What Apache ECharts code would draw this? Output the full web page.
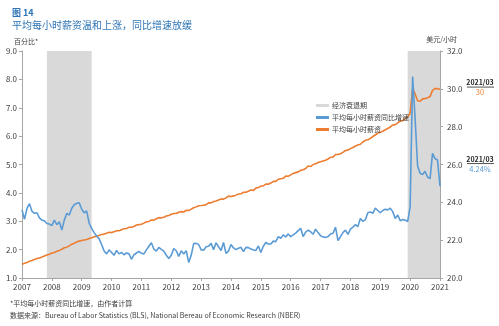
<!DOCTYPE html>
<html>
<head>
<meta charset="utf-8">
<script src="https://cdn.jsdelivr.net/npm/echarts@6/dist/echarts.min.js"></script>
<style>
html,body{margin:0;padding:0;background:#fff;}
#c{width:499px;height:326px;}
</style>
</head>
<body>
<div id="c"></div>
<script>
// Monthly dates from 2007-03 to 2021-03
var months = [];
(function(){
  for (var y = 2007; y <= 2021; y++) {
    for (var m = 1; m <= 12; m++) {
      if (y === 2007 && m < 3) continue;
      if (y === 2021 && m > 3) break;
      months.push(y + '-' + (m < 10 ? '0' + m : m));
    }
  }
})();

// Average hourly earnings YoY growth (%)
var yoyGrowth = [
  3.40,3.07,3.45,3.62,3.35,3.28,3.30,3.12,3.04,3.02,
  2.92,2.90,2.85,3.04,2.88,2.98,2.69,3.04,3.28,3.22,3.46,3.58,
  3.63,3.65,3.42,3.30,3.36,2.93,2.75,2.60,2.48,2.38,2.18,1.95,
  1.85,1.99,1.90,1.80,1.97,1.85,1.90,1.82,1.88,1.85,1.66,1.82,
  1.88,1.94,1.87,1.85,1.99,2.12,2.24,2.02,1.95,2.08,2.01,1.95,
  1.80,1.69,1.80,2.04,1.96,1.76,1.96,1.85,1.96,1.55,1.80,2.21,
  2.22,2.18,1.99,1.98,2.10,2.12,2.22,2.00,2.24,2.10,1.97,2.25,
  1.87,1.95,2.18,2.06,2.00,2.05,2.08,1.93,2.08,2.07,2.02,1.99,
  1.97,2.13,1.90,2.12,2.25,2.20,2.20,2.30,2.28,2.46,2.40,2.52,
  2.45,2.55,2.46,2.52,2.58,2.67,2.75,2.46,2.62,2.69,2.63,2.54,
  2.72,2.60,2.49,2.45,2.43,2.46,2.55,2.58,2.79,2.32,2.46,2.60,
  2.69,2.54,2.72,2.79,2.88,2.81,3.10,3.00,3.05,3.30,3.33,3.28,
  3.46,3.38,3.30,3.38,3.42,3.40,3.46,3.34,3.10,3.22,3.02,3.06,
  3.04,2.99,3.51,8.10,6.60,4.95,4.69,4.65,4.76,4.56,4.50,5.39,
  5.21,5.16,4.24
];

// Average hourly earnings (USD/hour)
var hourlyWage = [
  20.72,20.78,20.82,20.89,20.93,20.98,21.03,21.05,21.11,21.16,
  21.22,21.26,21.32,21.35,21.41,21.46,21.52,21.60,21.63,21.70,21.79,21.84,
  21.90,21.95,21.98,22.01,22.04,22.09,22.13,22.18,22.20,22.26,22.30,22.32,
  22.37,22.42,22.40,22.45,22.50,22.50,22.55,22.60,22.62,22.68,22.68,22.72,
  22.80,22.82,22.84,22.90,22.97,22.99,23.07,23.06,23.13,23.19,23.18,23.21,
  23.28,23.30,23.37,23.41,23.41,23.48,23.51,23.49,23.58,23.57,23.64,23.71,
  23.76,23.82,23.83,23.85,23.88,23.97,23.97,24.04,24.07,24.12,24.17,24.17,
  24.23,24.33,24.31,24.34,24.38,24.44,24.45,24.53,24.53,24.59,24.66,24.62,
  24.75,24.78,24.86,24.87,24.96,24.96,25.02,25.11,25.11,25.22,25.25,25.27,
  25.39,25.38,25.45,25.53,25.57,25.61,25.69,25.72,25.79,25.92,25.89,26.00,
  26.04,26.11,26.15,26.19,26.23,26.29,26.38,26.39,26.53,26.53,26.57,26.64,
  26.74,26.76,26.84,26.90,26.98,27.03,27.07,27.19,27.28,27.31,27.38,27.48,
  27.56,27.66,27.70,27.76,27.84,27.90,27.98,28.09,28.11,28.20,28.29,28.32,
  28.44,28.52,28.70,30.03,29.72,29.37,29.35,29.47,29.48,29.53,29.59,29.92,
  30.01,30.02,29.96
];

// Recession periods (NBER)
var recessions = [
  ['2008-01', '2009-07'],
  ['2020-02', '2021-03']
];

var leftTicks = { min: 1, max: 9, interval: 1 };
var rightTicks = { min: 20, max: 32, interval: 2 };

var seriesNames = ['经济衰退期', '平均每小时薪资同比增速', '平均每小时薪资'];
var endLabelDate = '2021/03';
var wageEndText = '30';
var yoyEndText = '4.24%';

var FONT = '"Noto Sans CJK SC", "Open Sans", sans-serif';
var BLUE = '#5b9bd5';
var ORANGE = '#ed7d31';
var AXIS = '#a6a6a6';
var TXT = '#404040';

var chart = echarts.init(document.getElementById('c'), null, { renderer: 'canvas' });

var option = {
  animation: false,
  backgroundColor: '#fff',
  textStyle: { fontFamily: FONT },
  title: [
    { text: '图 14', left: 7, top: 3, textStyle: { fontFamily: FONT, fontSize: 9, fontWeight: 'bold', color: '#2e75b6' } },
    { text: '平均每小时薪资温和上涨，同比增速放缓', left: 7, top: 15, textStyle: { fontFamily: FONT, fontSize: 10, fontWeight: 'normal', color: '#2e75b6' } },
    { text: '百分比*', left: 9, top: 33, textStyle: { fontFamily: FONT, fontSize: 7, fontWeight: 'normal', color: TXT } },
    { text: '美元/小时', right: 37, top: 31, textStyle: { fontFamily: FONT, fontSize: 7, fontWeight: 'normal', color: TXT } },
    { text: '*平均每小时薪资同比增速，由作者计算', left: 5, top: 295, textStyle: { fontFamily: FONT, fontSize: 7, fontWeight: 'normal', color: TXT } },
    { text: '数据来源：Bureau of Labor Statistics (BLS), National Bereau of Economic Research (NBER)', left: 5, top: 307, textStyle: { fontFamily: FONT, fontSize: 7, fontWeight: 'normal', color: TXT } }
  ],
  legend: {
    orient: 'vertical',
    left: 311,
    top: 96,
    itemWidth: 13,
    itemHeight: 3,
    itemGap: 3,
    icon: 'rect',
    textStyle: { fontFamily: FONT, fontSize: 7, color: TXT, lineHeight: 9, padding: [0, 0, 0, -2] },
    data: [
      { name: seriesNames[0], itemStyle: { color: '#d9d9d9' } },
      { name: seriesNames[1], itemStyle: { color: BLUE } },
      { name: seriesNames[2], itemStyle: { color: ORANGE } }
    ]
  },
  grid: { left: 22, right: 59, top: 51, bottom: 48, containLabel: false },
  xAxis: {
    type: 'category',
    data: months,
    boundaryGap: false,
    axisLine: { lineStyle: { color: AXIS, width: 1 } },
    axisTick: { show: true, interval: 11, length: 3, lineStyle: { color: AXIS } },
    axisLabel: {
      interval: 11,
      color: TXT,
      fontSize: 8,
      fontFamily: FONT,
      margin: 5,
      formatter: function (v) { return v.slice(0, 4); }
    },
    splitLine: { show: false }
  },
  yAxis: [
    {
      type: 'value',
      min: leftTicks.min, max: leftTicks.max, interval: leftTicks.interval,
      axisLine: { show: true, lineStyle: { color: AXIS } },
      axisTick: { show: true, length: 3, lineStyle: { color: AXIS } },
      axisLabel: { color: TXT, fontSize: 8, fontFamily: FONT, margin: 5, formatter: function (v) { return v.toFixed(1); } },
      splitLine: { show: false }
    },
    {
      type: 'value',
      min: rightTicks.min, max: rightTicks.max, interval: rightTicks.interval,
      position: 'right',
      axisLine: { show: true, lineStyle: { color: AXIS } },
      axisTick: { show: true, length: 3, lineStyle: { color: AXIS } },
      axisLabel: { color: TXT, fontSize: 8, fontFamily: FONT, margin: 7, formatter: function (v) { return v.toFixed(1); } },
      splitLine: { show: false }
    }
  ],
  series: [
    {
      name: seriesNames[0],
      type: 'line',
      data: [],
      color: '#d9d9d9',
      lineStyle: { width: 4, color: '#d9d9d9' },
      symbol: 'none',
      silent: true,
      z: 0,
      markArea: {
        silent: true,
        itemStyle: { color: '#d9d9d9' },
        data: recessions.map(function (r) { return [{ xAxis: r[0] }, { xAxis: r[1] }]; })
      }
    },
    {
      name: seriesNames[1],
      type: 'line',
      yAxisIndex: 0,
      data: yoyGrowth,
      color: BLUE,
      symbol: 'none',
      lineStyle: { width: 1.6, color: BLUE },
      z: 3,
      endLabel: {
        show: true,
        distance: 26,
        offset: [0, -22],
        formatter: function () { return '{d|' + endLabelDate + '}\n{v|' + yoyEndText + '}'; },
        rich: {
          d: { fontFamily: FONT, fontSize: 7, fontWeight: 'bold', color: '#262626', width: 28, align: 'center', lineHeight: 10 },
          v: { fontFamily: FONT, fontSize: 7.5, color: BLUE, width: 28, align: 'center', lineHeight: 10 }
        }
      }
    },
    {
      name: seriesNames[2],
      type: 'line',
      yAxisIndex: 1,
      data: hourlyWage,
      color: ORANGE,
      symbol: 'none',
      lineStyle: { width: 1.6, color: ORANGE },
      z: 2,
      endLabel: {
        show: true,
        distance: 26,
        offset: [0, -2],
        formatter: function () { return '{d|' + endLabelDate + '}\n{v|' + wageEndText + '}'; },
        rich: {
          d: { fontFamily: FONT, fontSize: 7, fontWeight: 'bold', color: '#262626', width: 28, align: 'center', lineHeight: 10 },
          v: { fontFamily: FONT, fontSize: 7.5, color: ORANGE, width: 28, align: 'center', lineHeight: 10 }
        }
      }
    }
  ]
};

chart.setOption(option);

// underlines beneath the end-label dates, placed relative to the last data points
(function () {
  var last = months.length - 1;
  var pW = chart.convertToPixel({ xAxisIndex: 0, yAxisIndex: 1 }, [last, hourlyWage[last]]);
  var pY = chart.convertToPixel({ xAxisIndex: 0, yAxisIndex: 0 }, [last, yoyGrowth[last]]);
  if (!pW || !pY) return;
  var x0 = pW[0] + 27, x1 = pW[0] + 54;
  chart.setOption({
    graphic: [
      { type: 'line', z: 100, shape: { x1: x0, y1: pW[1] - 2.5, x2: x1, y2: pW[1] - 2.5 }, style: { stroke: '#262626', lineWidth: 0.8 }, silent: true },
      { type: 'line', z: 100, shape: { x1: x0, y1: pY[1] - 22.5, x2: x1, y2: pY[1] - 22.5 }, style: { stroke: '#262626', lineWidth: 0.8 }, silent: true }
    ]
  });
})();
</script>
</body>
</html>
